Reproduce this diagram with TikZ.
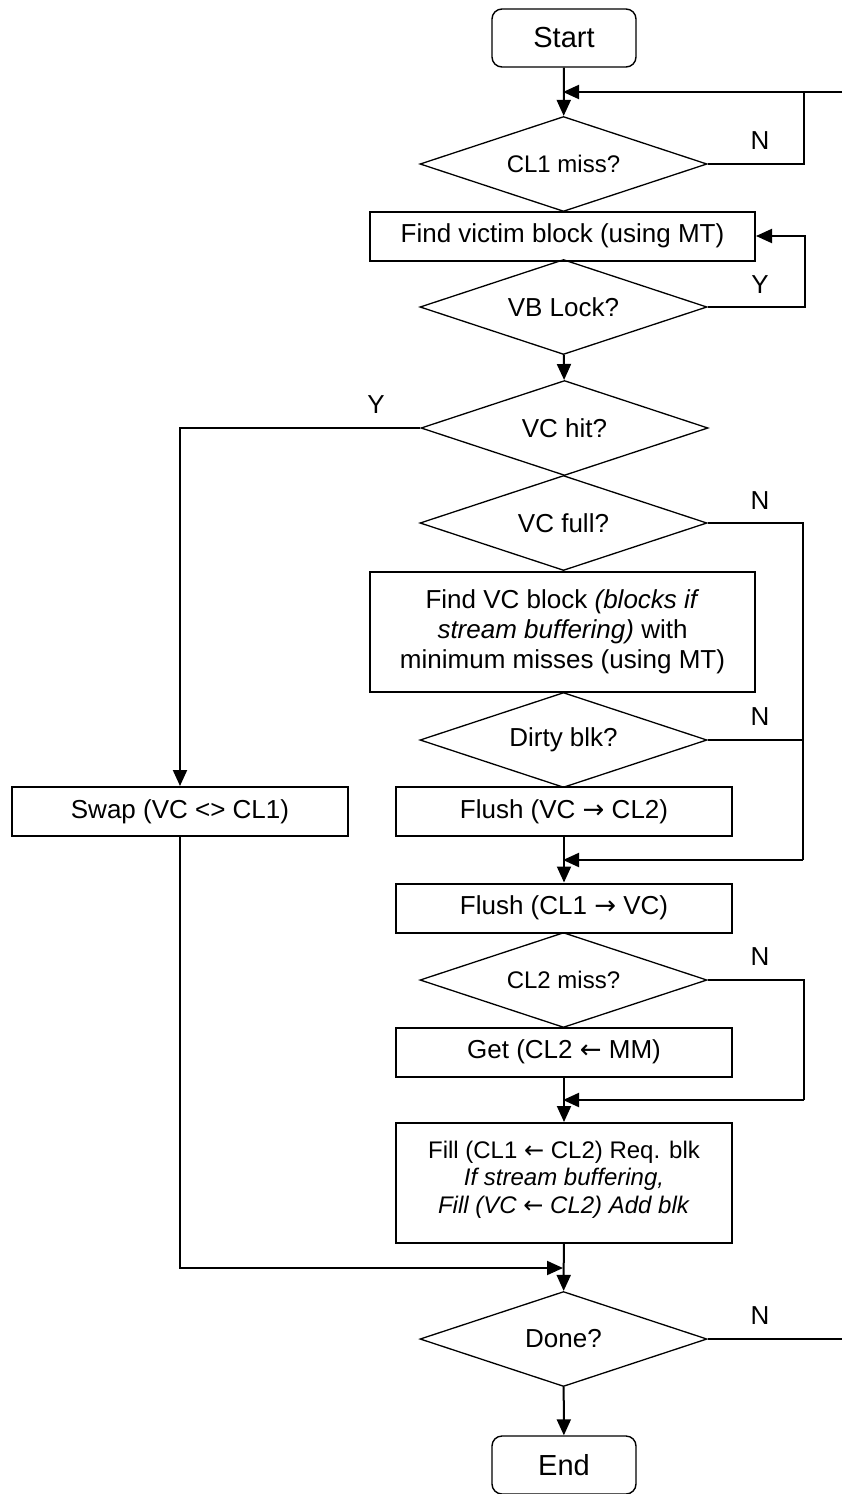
\documentclass[tikz,border=0pt]{standalone}
\usepackage{fontspec}
\setmainfont{Liberation Sans}
\newfontfamily\arrowfont{DejaVu Sans}
\usepackage{tikz}
\usetikzlibrary{arrows.meta,positioning,shapes.geometric}
\newcommand{\fsz}[1]{\fontsize{#1}{1.15\dimexpr#1pt\relax}\selectfont}
\newcommand{\ra}{{\arrowfont →}}
\newcommand{\la}{{\arrowfont ←}}
\tikzset{
  blk/.style  = {draw, line width=1pt, align=center, font=\fsz{13},
                 minimum width=168pt, minimum height=24.5pt, inner sep=2pt},
  dec/.style  = {draw, diamond, aspect=3, line width=0.65pt, inner sep=0pt,
                 minimum width=143.5pt, minimum height=47.5pt, font=\fsz{13}},
  term/.style = {draw, rounded corners=5pt, line width=0.7pt, font=\fsz{14.5},
                 minimum width=72pt, minimum height=29pt},
  ar/.style   = {-{Triangle[length=8pt,width=7pt]}, line width=1pt},
  ln/.style   = {line width=1pt},
  lbl/.style  = {font=\fsz{13}},
}

\begin{document}
\begin{tikzpicture}[x=0.5pt, y=-0.5pt]
  \useasboundingbox (0,0) rectangle (842,1494);
  % main column
  \node[term] (start) at (564,38) {Start};
  \node[dec, font=\fsz{12}] (cl1) at (563.5,164) {CL1 miss?};
  \node[blk, minimum width=192.5pt] (victim) at (562.5,236) {Find victim block (using MT)};
  \node[dec] (vblock) at (563.5,307) {VB Lock?};
  \node[dec] (vchit) at (564.5,428) {VC hit?};
  \node[dec] (vcfull) at (563.5,523) {VC full?};
  \node[blk, minimum width=192.5pt, minimum height=60pt] (findvc) at (562.5,632)
    {Find VC block \textit{(blocks if}\\ \textit{stream buffering)} with\\ minimum misses (using MT)};
  \node[dec] (dirty) at (563.5,740) {Dirty blk?};
  \node[blk] (flushvc) at (564,811.5) {Flush (VC \ra\ CL2)};
  \node[blk] (flushcl) at (564,908) {Flush (CL1 \ra\ VC)};
  \node[dec, font=\fsz{12}] (cl2) at (563.5,980) {CL2 miss?};
  \node[blk] (get) at (564,1052) {Get (CL2 \la\ MM)};
  \node[blk, minimum height=60pt, font=\fsz{12}] (fill) at (564,1183)
    {Fill (CL1 \la\ CL2) Req. blk\\ \textit{If stream buffering,}\\ \textit{Fill (VC \la\ CL2) Add blk}\\[-8pt]};
  \node[dec] (done) at (563.5,1339) {Done?};
  \node[term] (fin) at (564,1465) {End};
  % left: swap
  \node[blk] (swap) at (180,811.5) {Swap (VC <> CL1)};

  % joints
  \coordinate (j1) at (563,92);
  \coordinate (k1) at (804,92);
  \coordinate (loopin) at (842,92);
  \coordinate (j2) at (563,860);
  \coordinate (k2) at (803,860);
  \coordinate (j3) at (563,1100);
  \coordinate (k3) at (804,1100);
  \coordinate (j4) at (563,1268);
  \coordinate (loopout) at (842,1339);

  % arrows
  \draw[ar] (start) -- (cl1);
  \draw[ar] (loopin) -- (j1);
  \draw[ln] (cl1.east) -| (k1);
  \draw[ar] (vblock.east) -- ++(97,0) |- (victim.east);
  \draw[ar] (vblock) -- (vchit);
  \draw[ar] (vchit.west) -| (swap.north);
  \draw[ln] (vcfull.east) -| (k2);
  \draw[ln] (dirty.east) -- (dirty.east -| k2);
  \draw[ar] (k2) -- (j2);
  \draw[ar] (flushvc) -- (flushcl);
  \draw[ln] (cl2.east) -| (k3);
  \draw[ar] (k3) -- (j3);
  \draw[ar] (get) -- (fill);
  \draw[ar] (fill) -- (done);
  \draw[ar] (swap.south) |- (j4);
  \draw[ln] (done.east) -- (loopout);
  \draw[ar] (done) -- (fin);

  % labels
  \foreach \x/\y/\t in {760/141/N, 760/285/Y, 376/405/Y, 760/501/N,
                         760/717/N, 760/957/N, 760/1316/N}
    \node[lbl] at (\x,\y) {\t};
\end{tikzpicture}
\end{document}
